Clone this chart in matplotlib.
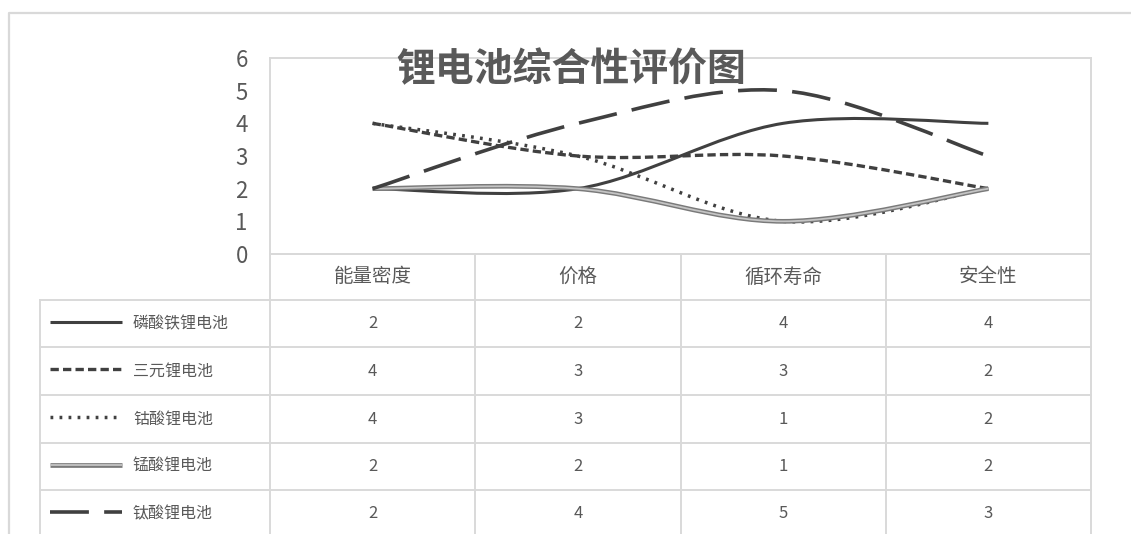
import matplotlib
matplotlib.use("Agg")
import matplotlib.pyplot as plt
import numpy as np
from matplotlib.path import Path
from matplotlib.patches import PathPatch
from matplotlib.lines import Line2D

plt.rcParams['font.family'] = ['Noto Sans CJK SC', 'DejaVu Sans']
plt.rcParams['lines.scale_dashes'] = False

# --- data
title = "锂电池综合性评价图"
categories = ["能量密度", "价格", "循环寿命", "安全性"]
series_names = ["磷酸铁锂电池", "三元锂电池", "钴酸锂电池", "锰酸锂电池", "钛酸锂电池"]
lfp = [2, 2, 4, 4]
ncm = [4, 3, 3, 2]
lco = [4, 3, 1, 2]
lmo = [2, 2, 1, 2]
lto = [2, 4, 5, 3]
series_values = [lfp, ncm, lco, lmo, lto]
yticks = [0, 1, 2, 3, 4, 5, 6]

# --- styles (one per series)
DARK = "#404040"
TXT = "#595959"
GRID = "#d9d9d9"
styles = [
    [dict(color=DARK, lw=2.2, ls="solid")],
    [dict(color=DARK, lw=2.4, ls=(0, (6, 3)))],
    [dict(color=DARK, lw=2.5, ls=(0, (2, 4.5)))],
    [dict(color="#7a7a7a", lw=3.4, ls="solid"), dict(color="#c4c4c4", lw=1.3, ls="solid")],
    [dict(color=DARK, lw=2.6, ls=(0, (28, 11)))],
]

W, H = 1131, 534
fig = plt.figure(figsize=(W / 100, H / 100), dpi=100)

# pixel layout
px_left, px_right = 270, 1091
px_top, px_bottom = 58, 254
ax = fig.add_axes([px_left / W, 1 - px_bottom / H,
                   (px_right - px_left) / W, (px_bottom - px_top) / H])


def smooth_path(vals):
    # Excel-like smoothed line: cubic Bezier through each point (Catmull-Rom)
    pts = np.array([[i, v] for i, v in enumerate(vals)], dtype=float)
    n = len(pts)
    verts = [pts[0]]
    codes = [Path.MOVETO]
    for i in range(n - 1):
        p0 = pts[i - 1] if i > 0 else pts[i]
        p3 = pts[i + 2] if i + 2 < n else pts[i + 1]
        c1 = pts[i] + (pts[i + 1] - p0) / 6
        c2 = pts[i + 1] - (p3 - pts[i]) / 6
        verts += [c1, c2, pts[i + 1]]
        codes += [Path.CURVE4] * 3
    return Path(verts, codes)


for vals, st in zip(series_values, styles):
    p = smooth_path(vals)
    for s in st:
        ax.add_patch(PathPatch(p, fill=False, edgecolor=s["color"], lw=s["lw"],
                               linestyle=s["ls"], capstyle="butt", joinstyle="round"))

ax.set_xlim(-0.5, len(categories) - 0.5)
ax.set_ylim(0, 6)
ax.set_yticks(yticks)
ax.set_yticklabels([str(t) for t in yticks], fontsize=16, color=TXT)
ax.set_xticks([])
ax.tick_params(axis="y", length=0, pad=16)
for sp in ax.spines.values():
    sp.set_color(GRID)
    sp.set_linewidth(1.4)

# --- overlay in pixel space for the data table, legend keys and frame
ov = fig.add_axes([0, 0, 1, 1], facecolor="none")
ov.set_xlim(0, W)
ov.set_ylim(H, 0)
ov.axis("off")

# outer chart frame
ov.plot([9, 9, W], [H, 13, 13], color=GRID, lw=1.6)

ov.text(571, 70, title, ha="center", va="center", fontsize=28,
        fontweight="bold", color=TXT)

col_w = (px_right - px_left) / len(categories)
row_edges = [254, 300, 347, 395, 443, 490, 538]
leg_left = 40

# horizontal grid lines
ov.plot([px_left, px_right], [row_edges[0]] * 2, color=GRID, lw=1.4)
for y in row_edges[1:]:
    ov.plot([leg_left, px_right], [y, y], color=GRID, lw=1.4)
# vertical grid lines
for i in range(len(categories) + 1):
    x = px_left + i * col_w
    ov.plot([x, x], [row_edges[0], H], color=GRID, lw=1.4)
ov.plot([leg_left, leg_left], [row_edges[1], H], color=GRID, lw=1.4)

# header
hy = (row_edges[0] + row_edges[1]) / 2
for i, c in enumerate(categories):
    ov.text(px_left + (i + 0.5) * col_w, hy, c, ha="center", va="center",
            fontsize=14, color=TXT)

# rows
for r, (name, vals, st) in enumerate(zip(series_names, series_values, styles)):
    y = (row_edges[r + 1] + row_edges[r + 2]) / 2
    for s in st:
        ov.add_line(Line2D([50, 122], [y - 2, y - 2], color=s["color"], lw=s["lw"],
                           linestyle=s["ls"], solid_capstyle="butt",
                           dash_capstyle="butt"))
    ov.text(133, y, name, ha="left", va="center", fontsize=11.5, color=TXT)
    for i, v in enumerate(vals):
        ov.text(px_left + (i + 0.5) * col_w, y, str(v), ha="center", va="center",
                fontsize=12, color=TXT)

fig.savefig("out.png", dpi=100)
